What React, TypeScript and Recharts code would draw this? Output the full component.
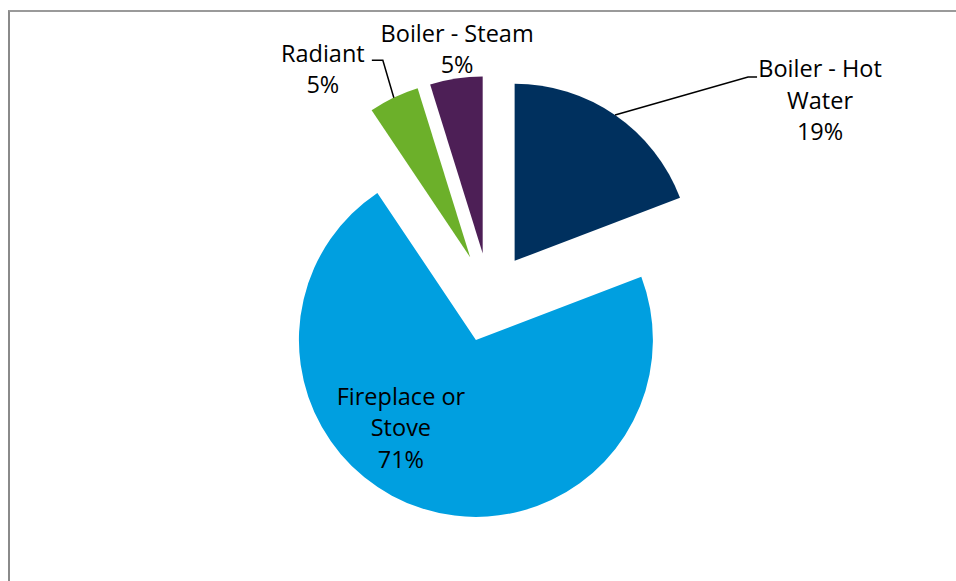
import React from 'react';
import { PieChart, Pie, Cell } from 'recharts';

const categories = ['Boiler - Hot Water', 'Fireplace or Stove', 'Radiant', 'Boiler - Steam'];
const shares = [19.2, 71.4, 4.6, 4.8];
const colors = ['#00305E', '#009FE0', '#6CB02A', '#4D1F56'];
const labelNames = [['Boiler - Hot', 'Water'], ['Fireplace or', 'Stove'], ['Radiant'], ['Boiler - Steam']];

const data = categories.map((name, i) => ({ name, value: shares[i] }));

const W = 956;
const H = 581;
const MARGIN = 5;
const CX = 489.4 - MARGIN;
const CY = 297.5 - MARGIN;
const R = 177;
const EXPLODE = 44.5;
const FONT = '"Open Sans", sans-serif';
const FS = 23.5;
const LH = 31.5;
const RAD = Math.PI / 180;

const total = shares.reduce((a, b) => a + b, 0);
const midCw = shares.map((v, i) => {
  const before = shares.slice(0, i).reduce((a, b) => a + b, 0);
  return ((before + v / 2) / total) * 360;
});
const offsets = midCw.map((t) => ({ dx: EXPLODE * Math.sin(t * RAD), dy: -EXPLODE * Math.cos(t * RAD) }));

const Lines = ({ x, y, lines }: { x: number; y: number; lines: string[] }) => (
  <text x={x} y={y} textAnchor="middle" fontFamily={FONT} fontSize={FS} fill="#000">
    {lines.map((l, k) => (
      <tspan key={k} x={x} y={y + k * LH}>
        {l}
      </tspan>
    ))}
  </text>
);

const makeLabel = (target: number) => (props: any) => {
  const { index, cx, cy, midAngle, outerRadius, percent } = props;
  if (index !== target) return null;
  const ox = cx + outerRadius * Math.cos(-midAngle * RAD);
  const oy = cy + outerRadius * Math.sin(-midAngle * RAD);
  const pct = `${Math.round(percent * 100)}%`;
  const lines = [...labelNames[target], pct];
  if (target === 0) {
    return (
      <g>
        <polyline
          points={`${ox},${oy} ${ox + 133},${oy - 38} ${ox + 142},${oy - 38}`}
          fill="none"
          stroke="#000"
          strokeWidth={1.5}
        />
        <Lines x={ox + 205} y={oy - 38} lines={lines} />
      </g>
    );
  }
  if (target === 1) {
    return <Lines x={cx - 75} y={cy + 65} lines={lines} />;
  }
  if (target === 2) {
    return (
      <g>
        <polyline
          points={`${ox},${oy} ${ox - 11},${oy - 37.5} ${ox - 22},${oy - 37.5}`}
          fill="none"
          stroke="#000"
          strokeWidth={1.5}
        />
        <Lines x={ox - 71} y={oy - 36} lines={lines} />
      </g>
    );
  }
  return <Lines x={ox + 1} y={oy - 37} lines={lines} />;
};

export default function App() {
  return (
    <div>
      <style>{'html,body{margin:0;padding:0;overflow:hidden;background:#fff;}'}</style>
      <div
        style={{
          position: 'absolute',
          left: 8,
          top: 10,
          width: W - 8,
          height: H - 10,
          borderLeft: '2px solid #8a8a8a',
          borderTop: '2px solid #9a9a9a',
          boxSizing: 'border-box',
        }}
      />
      <div style={{ position: 'absolute', left: 0, top: 0 }}>
        <PieChart width={W} height={H} margin={{ top: MARGIN, right: MARGIN, bottom: MARGIN, left: MARGIN }}>
          {data.map((_, i) => (
            <Pie
              key={i}
              data={data}
              dataKey="value"
              nameKey="name"
              cx={CX + offsets[i].dx}
              cy={CY + offsets[i].dy}
              innerRadius={0}
              outerRadius={R}
              startAngle={90}
              endAngle={-270}
              stroke="none"
              isAnimationActive={false}
              labelLine={false}
              label={makeLabel(i)}
            >
              {data.map((__, j) => (
                <Cell key={j} fill={j === i ? colors[j] : 'none'} stroke="none" />
              ))}
            </Pie>
          ))}
        </PieChart>
      </div>
    </div>
  );
}
